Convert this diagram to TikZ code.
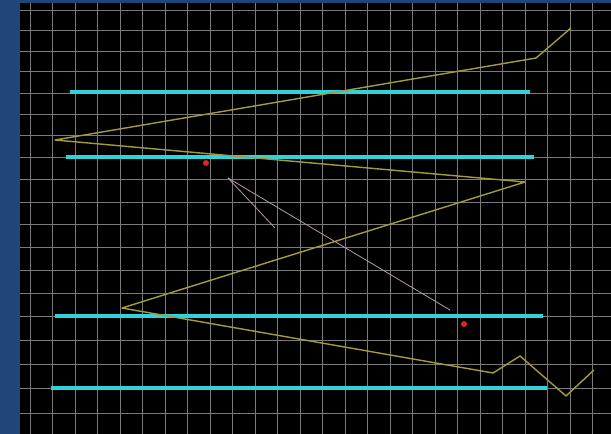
\documentclass[tikz,border=0pt]{standalone}
\usepackage{tikz}
\definecolor{frameblue}{HTML}{1F4676}
\definecolor{wall}{HTML}{2FD3DA}
\definecolor{path}{HTML}{A39C3E}
\definecolor{ray}{HTML}{B49AAE}
\definecolor{target}{HTML}{E02424}

\begin{document}
\begin{tikzpicture}[
    x=1pt, y=-1pt,
    gridline/.style={white!48!black, line width=0.8pt},
    wallline/.style={wall, line width=3.4pt},
    pathline/.style={path, line width=1.4pt, line join=round},
    rayline/.style={ray, line width=0.8pt},
    dot/.style={circle, fill=target, inner sep=0pt, minimum size=6pt}
]
  % frame and floor
  \fill[frameblue] (0,0) rectangle (611,434);
  \fill[black] (20,3) rectangle (611,434);
  \useasboundingbox (0,0) rectangle (611,434);

  % floor grid
  \foreach \i in {0,...,25}
    \draw[gridline] ({30+22.5*\i},3) -- ({30+22.5*\i},434);
  \foreach \i in {0,...,18} {
    \pgfmathsetmacro\yy{10+20.28*\i+0.117*\i*\i}
    \draw[gridline] (20,\yy) -- (611,\yy);
  }

  % walls
  \draw[wallline] (70,92) -- (530,92);
  \draw[wallline] (66,157) -- (534,157);
  \draw[wallline] (55,316) -- (543,316);
  \draw[wallline] (51,388) -- (547,388);

  % trajectory
  \draw[pathline] (571,28) -- (536,58) -- (55,140) -- (525,182) -- (122,308)
    -- (493,373) -- (520,356) -- (566,396) -- (594,370);

  % sensor rays
  \coordinate (src) at (228,178);
  \coordinate (r1) at (275,228);
  \coordinate (r2) at (450,310);
  \draw[rayline] (src) -- (r1);
  \draw[rayline] (src) -- (r2);

  % targets
  \node[dot] (t1) at (206,163) {};
  \node[dot] (t2) at (464,324) {};
\end{tikzpicture}
\end{document}
